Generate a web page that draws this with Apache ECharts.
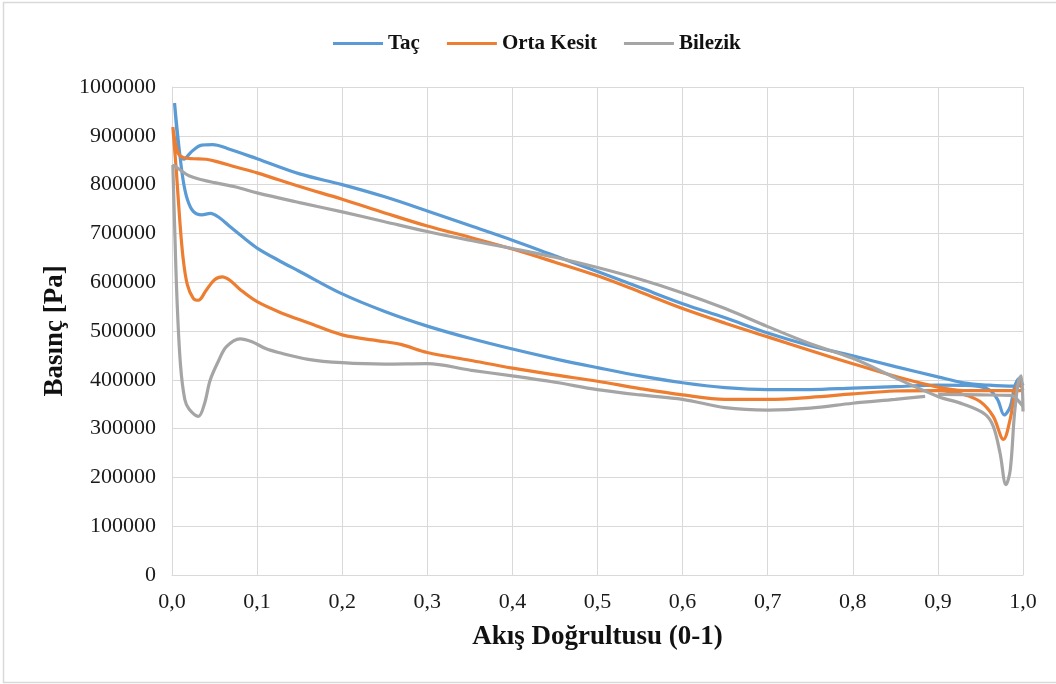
<!DOCTYPE html>
<html>
<head>
<meta charset="utf-8">
<script src="https://cdn.jsdelivr.net/npm/echarts@6/dist/echarts.min.js"></script>
<style>
  html, body { margin: 0; padding: 0; background: #ffffff; }
  #chart { width: 1056px; height: 684px; }
</style>
</head>
<body>
<div id="chart"></div>
<script>
// Pressure distribution along the flow direction for three blade sections.
// Each section has an upper and a lower branch that meet at the leading edge (x = 0).

const seriesNames = ['Taç', 'Orta Kesit', 'Bilezik'];
const seriesColors = ['#5B9BD5', '#ED7D31', '#A5A5A5'];

const xTicks = [0, 0.1, 0.2, 0.3, 0.4, 0.5, 0.6, 0.7, 0.8, 0.9, 1.0];
const yTicks = [0, 100000, 200000, 300000, 400000, 500000, 600000, 700000, 800000, 900000, 1000000];

// Taç
const tacUpper = [
  [0.003, 967000], [0.006, 905000], [0.009, 862000], [0.014, 852000], [0.022, 866000],
  [0.035, 881000], [0.048, 882000], [0.065, 874000], [0.1, 853000], [0.15, 822000],
  [0.2, 800000], [0.25, 775000], [0.3, 746000], [0.35, 716000], [0.4, 686000],
  [0.45, 654000], [0.5, 622000], [0.55, 589000], [0.6, 556000], [0.65, 527000],
  [0.7, 496000], [0.75, 470000], [0.8, 449000], [0.85, 427000], [0.9, 406000],
  [0.93, 394000], [0.96, 389000], [0.99, 387000], [1.0, 388000]
];
const tacLower = [
  [0.003, 967000], [0.008, 880000], [0.013, 810000], [0.018, 770000], [0.025, 745000],
  [0.035, 738000], [0.045, 741000], [0.055, 733000], [0.068, 714000], [0.085, 690000],
  [0.1, 670000], [0.125, 645000], [0.15, 622000], [0.2, 576000], [0.25, 540000],
  [0.3, 510000], [0.35, 485000], [0.4, 463000], [0.45, 443000], [0.5, 425000],
  [0.55, 408000], [0.6, 394000], [0.65, 384000], [0.7, 380000], [0.75, 380000],
  [0.8, 383000], [0.85, 386000], [0.9, 389000], [0.94, 388000], [0.96, 380000],
  [0.97, 360000], [0.978, 328000], [0.985, 345000], [0.99, 385000], [0.995, 402000],
  [1.0, 388000]
];

// Orta Kesit
const ortaUpper = [
  [0.001, 918000], [0.004, 885000], [0.008, 862000], [0.014, 855000], [0.025, 853000],
  [0.04, 852000], [0.055, 846000], [0.075, 836000], [0.1, 824000], [0.15, 796000],
  [0.2, 770000], [0.25, 742000], [0.3, 715000], [0.35, 692000], [0.4, 668000],
  [0.45, 641000], [0.5, 613000], [0.55, 580000], [0.6, 546000], [0.65, 516000],
  [0.7, 488000], [0.75, 460000], [0.8, 433000], [0.85, 407000], [0.9, 385000],
  [0.93, 378000], [0.96, 378000], [0.99, 378000], [1.0, 378000]
];
const ortaLower = [
  [0.001, 918000], [0.005, 830000], [0.009, 730000], [0.013, 650000], [0.018, 595000],
  [0.025, 567000], [0.031, 563000], [0.04, 583000], [0.05, 605000], [0.059, 611000],
  [0.068, 604000], [0.08, 585000], [0.1, 560000], [0.13, 536000], [0.16, 517000],
  [0.2, 492000], [0.25, 478000], [0.27, 472000], [0.3, 456000], [0.35, 440000],
  [0.4, 424000], [0.45, 410000], [0.5, 397000], [0.55, 382000], [0.6, 369000],
  [0.65, 360000], [0.7, 360000], [0.75, 364000], [0.8, 371000], [0.85, 377000],
  [0.9, 378000], [0.93, 370000], [0.95, 355000], [0.965, 325000], [0.977, 278000],
  [0.985, 320000], [0.99, 370000], [0.995, 395000], [1.0, 378000]
];

// Bilezik
const bilezikUpper = [
  [0.001, 840000], [0.008, 832000], [0.02, 818000], [0.035, 810000], [0.05, 804000],
  [0.075, 795000], [0.1, 783000], [0.15, 763000], [0.2, 744000], [0.25, 724000],
  [0.3, 704000], [0.35, 686000], [0.4, 669000], [0.45, 651000], [0.5, 630000],
  [0.55, 606000], [0.6, 578000], [0.65, 546000], [0.7, 509000], [0.75, 474000],
  [0.8, 444000], [0.85, 404000], [0.9, 366000], [0.93, 350000], [0.955, 330000],
  [0.965, 305000], [0.973, 250000], [0.98, 185000], [0.985, 215000], [0.99, 330000],
  [0.995, 400000], [0.998, 408000], [1.0, 335000]
];
const bilezikLower = [
  [0.001, 840000], [0.003, 720000], [0.006, 560000], [0.01, 430000], [0.015, 360000],
  [0.02, 340000], [0.031, 325000], [0.038, 350000], [0.045, 400000], [0.055, 440000],
  [0.064, 468000], [0.08, 484000], [0.094, 478000], [0.11, 464000], [0.125, 456000],
  [0.16, 442000], [0.2, 435000], [0.25, 432000], [0.3, 433000], [0.35, 420000],
  [0.4, 408000], [0.45, 395000], [0.5, 380000], [0.55, 369000], [0.6, 360000],
  [0.65, 343000], [0.7, 338000], [0.75, 342000], [0.8, 352000], [0.85, 360000],
  [0.885, 366000]
];
const bilezikTrail = [
  [0.9, 370000], [0.95, 369000], [0.985, 368000], [1.0, 345000]
];

// Walk the upper branch from the trailing edge back to the leading edge,
// then continue along the lower branch.
function loop(upper, lower) {
  return upper.slice().reverse().concat(lower.slice(1));
}

const serif = '"Liberation Serif", "Times New Roman", serif';

function lineSeries(name, color, data) {
  return {
    name: name,
    type: 'line',
    data: data,
    smooth: 0.35,
    showSymbol: false,
    symbol: 'none',
    lineStyle: { color: color, width: 3.2 },
    itemStyle: { color: color },
    emphasis: { disabled: true },
    z: 3
  };
}

const chart = echarts.init(document.getElementById('chart'), null, { renderer: 'canvas' });

chart.setOption({
  backgroundColor: '#ffffff',
  animation: false,
  graphic: [{
    type: 'rect',
    shape: { x: 3.5, y: 2.5, width: 1100, height: 680 },
    style: { fill: 'none', stroke: '#d9d9d9', lineWidth: 1.5 },
    silent: true,
    z: -10
  }],
  legend: {
    data: seriesNames,
    left: 328,
    top: 28,
    icon: 'rect',
    itemWidth: 50,
    itemHeight: 3,
    itemGap: 27,
    textStyle: { fontFamily: serif, fontWeight: 'bold', fontSize: 21, color: '#111' }
  },
  grid: { left: 172, right: 33, top: 87, bottom: 109, containLabel: false },
  xAxis: {
    type: 'value',
    min: xTicks[0],
    max: xTicks[xTicks.length - 1],
    interval: 0.1,
    name: 'Akış Doğrultusu (0-1)',
    nameLocation: 'middle',
    nameGap: 49,
    nameTextStyle: { fontFamily: serif, fontWeight: 'bold', fontSize: 27, color: '#111' },
    axisLine: { show: true, lineStyle: { color: '#d9d9d9', width: 1 } },
    axisTick: { show: false },
    axisLabel: {
      margin: 16,
      fontFamily: serif, fontSize: 22, color: '#1a1a1a',
      formatter: v => v.toFixed(1).replace('.', ',')
    },
    splitLine: { show: true, lineStyle: { color: '#d9d9d9', width: 1 } }
  },
  yAxis: {
    type: 'value',
    min: yTicks[0],
    max: yTicks[yTicks.length - 1],
    interval: 100000,
    name: 'Basınç [Pa]',
    nameLocation: 'middle',
    nameRotate: 90,
    nameGap: 101,
    nameTextStyle: { fontFamily: serif, fontWeight: 'bold', fontSize: 27, color: '#111' },
    axisLine: { show: true, lineStyle: { color: '#d9d9d9', width: 1 } },
    axisTick: { show: false },
    axisLabel: {
      margin: 16,
      fontFamily: serif, fontSize: 22, color: '#1a1a1a',
      formatter: v => String(v)
    },
    splitLine: { show: true, lineStyle: { color: '#d9d9d9', width: 1 } }
  },
  series: [
    lineSeries(seriesNames[0], seriesColors[0], loop(tacUpper, tacLower)),
    lineSeries(seriesNames[1], seriesColors[1], loop(ortaUpper, ortaLower)),
    lineSeries(seriesNames[2], seriesColors[2], loop(bilezikUpper, bilezikLower)),
    lineSeries(seriesNames[2], seriesColors[2], bilezikTrail)
  ]
});
</script>
</body>
</html>
